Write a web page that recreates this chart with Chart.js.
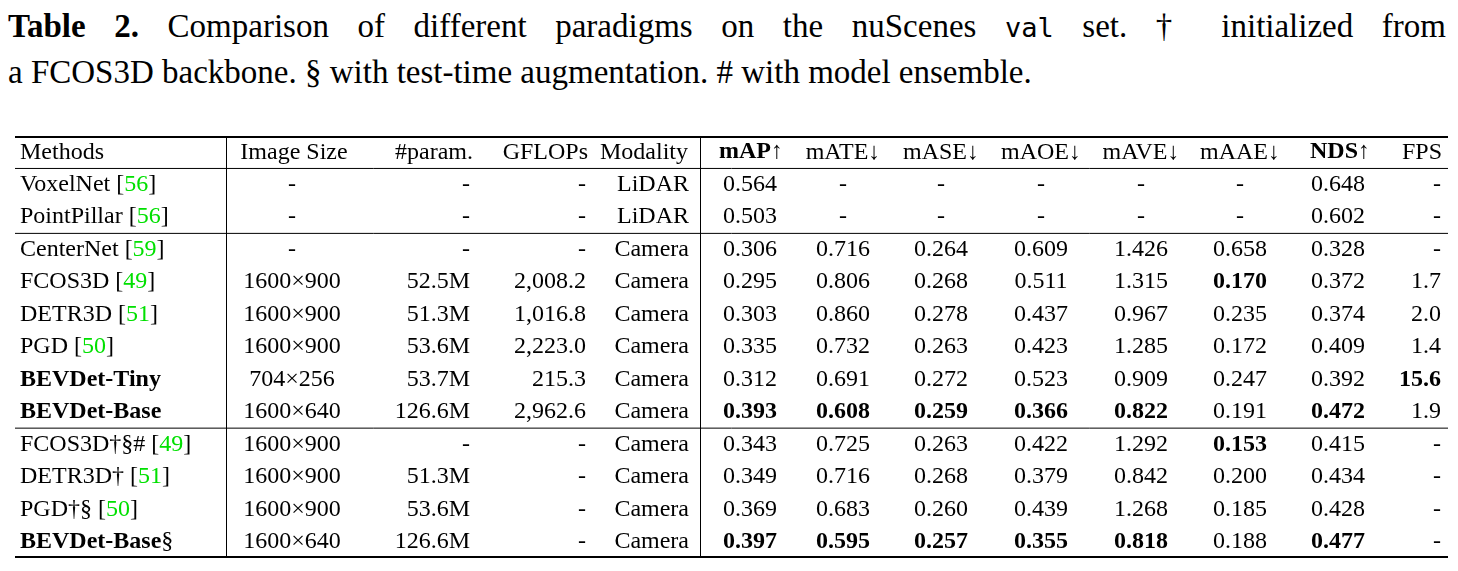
<!DOCTYPE html>
<html>
<head>
<meta charset="utf-8">
<script src="https://cdn.jsdelivr.net/npm/chart.js@4.4.0/dist/chart.umd.min.js"></script>
<style>
  body { margin: 0; background: #fff; width: 1458px; height: 571px; overflow: hidden; }
  #cap { position: absolute; left: 8px; top: 4px; width: 1438px; font-family: "Liberation Serif", serif; font-size: 33px; line-height: 44px; color: #000; white-space: nowrap; }
  #cap .l1 { text-align: justify; text-align-last: justify; }
  #cap b { font-family: "Liberation Serif", serif; }
  #cap code { font-family: "DejaVu Sans Mono", monospace; font-size: 27px; }
  #wrap { position: absolute; left: 15px; top: 136px; }
</style>
</head>
<body>
<div id="cap">
  <div class="l1"><b>Table 2.</b> Comparison of different paradigms on the nuScenes <code>val</code> set. † initialized from</div>
  <div>a FCOS3D backbone. § with test-time augmentation. # with model ensemble.</div>
</div>
<div id="wrap"><canvas id="tableChart" width="1433" height="422"></canvas></div>
<script>
// rows
const methods = ["VoxelNet", "PointPillar", "CenterNet", "FCOS3D", "DETR3D", "PGD", "BEVDet-Tiny", "BEVDet-Base", "FCOS3D†§#", "DETR3D†", "PGD†§", "BEVDet-Base"];
const suffix = ["", "", "", "", "", "", "", "", "", "", "", "§"];
const refs = ["56", "56", "59", "49", "51", "50", "", "", "49", "51", "50", ""];
const boldMethod = [6, 7, 11];
const imageSize = ["-", "-", "-", "1600×900", "1600×900", "1600×900", "704×256", "1600×640", "1600×900", "1600×900", "1600×900", "1600×640"];
const params = ["-", "-", "-", "52.5M", "51.3M", "53.6M", "53.7M", "126.6M", "-", "51.3M", "53.6M", "126.6M"];
const gflops = ["-", "-", "-", "2,008.2", "1,016.8", "2,223.0", "215.3", "2,962.6", "-", "-", "-", "-"];
const modality = ["LiDAR", "LiDAR", "Camera", "Camera", "Camera", "Camera", "Camera", "Camera", "Camera", "Camera", "Camera", "Camera"];
const mAP = ["0.564", "0.503", "0.306", "0.295", "0.303", "0.335", "0.312", "0.393", "0.343", "0.349", "0.369", "0.397"];
const mATE = ["-", "-", "0.716", "0.806", "0.860", "0.732", "0.691", "0.608", "0.725", "0.716", "0.683", "0.595"];
const mASE = ["-", "-", "0.264", "0.268", "0.278", "0.263", "0.272", "0.259", "0.263", "0.268", "0.260", "0.257"];
const mAOE = ["-", "-", "0.609", "0.511", "0.437", "0.423", "0.523", "0.366", "0.422", "0.379", "0.439", "0.355"];
const mAVE = ["-", "-", "1.426", "1.315", "0.967", "1.285", "0.909", "0.822", "1.292", "0.842", "1.268", "0.818"];
const mAAE = ["-", "-", "0.658", "0.170", "0.235", "0.172", "0.247", "0.191", "0.153", "0.200", "0.185", "0.188"];
const NDS = ["0.648", "0.602", "0.328", "0.372", "0.374", "0.409", "0.392", "0.472", "0.415", "0.434", "0.428", "0.477"];
const FPS = ["-", "-", "-", "1.7", "2.0", "1.4", "15.6", "1.9", "-", "-", "-", "-"];
const headers = ["Methods", "Image Size", "#param.", "GFLOPs", "Modality", "mAP↑", "mATE↓", "mASE↓", "mAOE↓", "mAVE↓", "mAAE↓", "NDS↑", "FPS"];
const boldHeaders = ["mAP↑", "NDS↑"];

// column layout: x anchor (page px) and alignment
const columns = [
  { data: null, x: 20, align: "left", hx: 20, halign: "left" },
  { data: imageSize, x: 292, align: "center", hx: 294, halign: "center" },
  { data: params, x: 470, align: "right", hx: 473, halign: "right" },
  { data: gflops, x: 586, align: "right", hx: 588, halign: "right" },
  { data: modality, x: 689, align: "right", hx: 644, halign: "center" },
  { data: mAP, x: 750, align: "center", hx: 751, halign: "center", bold: [7, 11] },
  { data: mATE, x: 843, align: "center", hx: 843, halign: "center", bold: [7, 11] },
  { data: mASE, x: 941, align: "center", hx: 941, halign: "center", bold: [7, 11] },
  { data: mAOE, x: 1041, align: "center", hx: 1041, halign: "center", bold: [7, 11] },
  { data: mAVE, x: 1141, align: "center", hx: 1141, halign: "center", bold: [7, 11] },
  { data: mAAE, x: 1240, align: "center", hx: 1240, halign: "center", bold: [3, 8] },
  { data: NDS, x: 1338, align: "center", hx: 1340, halign: "center", bold: [7, 11] },
  { data: FPS, x: 1441, align: "right", hx: 1442, halign: "right", bold: [6] }
];
const vLines = [226, 700];
const rowLabels = ["header"].concat(methods.map((m, i) => m + suffix[i] + i));

const serif = "\"Liberation Serif\", serif";
const fontSize = 24;

const tablePlugin = {
  id: "tablePlugin",
  afterDraw(chart) {
    const c = chart.ctx, xs = chart.scales.x, ys = chart.scales.y, area = chart.chartArea;
    const font = (b) => (b ? "bold " : "") + fontSize + "px " + serif;
    const rowY = (i) => ys.getPixelForValue(i);
    const between = (i) => (rowY(i) + rowY(i + 1)) / 2;
    c.save();
    c.textBaseline = "middle";
    c.fillStyle = "#000";
    // header
    columns.forEach((col, j) => {
      c.font = font(boldHeaders.includes(headers[j]));
      c.textAlign = col.halign;
      c.fillText(headers[j], xs.getPixelForValue(col.hx), rowY(0));
    });
    // body
    methods.forEach((m, i) => {
      const y = rowY(i + 1);
      let x = xs.getPixelForValue(columns[0].x);
      c.textAlign = "left";
      c.font = font(boldMethod.includes(i));
      c.fillText(m, x, y); x += c.measureText(m).width;
      c.font = font(false);
      if (suffix[i]) { c.fillText(suffix[i], x, y); x += c.measureText(suffix[i]).width; }
      if (refs[i]) {
        const parts = [[" [", "#000"], [refs[i], "#00e000"], ["]", "#000"]];
        parts.forEach(([t, col]) => { c.fillStyle = col; c.fillText(t, x, y); x += c.measureText(t).width; });
        c.fillStyle = "#000";
      }
      columns.slice(1).forEach((col) => {
        const v = col.data[i];
        c.font = font(col.bold && col.bold.includes(i));
        c.textAlign = v === "-" && col.align === "center" ? "center" : col.align;
        c.fillText(v, xs.getPixelForValue(col.x), y);
      });
    });
    // rules
    c.strokeStyle = "#000";
    const hline = (y, w) => { c.lineWidth = w; c.beginPath(); c.moveTo(area.left, y); c.lineTo(area.right, y); c.stroke(); };
    hline(area.top + 1, 2);
    hline(between(0), 1);
    hline(between(2), 1);
    hline(between(8), 1);
    hline(area.bottom - 1, 2);
    c.lineWidth = 1;
    vLines.forEach((vx) => {
      const px = Math.round(xs.getPixelForValue(vx)) + 0.5;
      c.beginPath(); c.moveTo(px, area.top); c.lineTo(px, area.bottom); c.stroke();
    });
    c.restore();
  }
};

new Chart(document.getElementById("tableChart"), {
  type: "scatter",
  data: { labels: rowLabels, datasets: [{ data: [], pointRadius: 0 }] },
  options: {
    responsive: false,
    animation: false,
    layout: { padding: 0 },
    plugins: { legend: { display: false }, tooltip: { enabled: false } },
    scales: {
      x: { type: "linear", min: 15, max: 1448, display: false },
      y: { type: "category", labels: rowLabels, offset: true, display: false }
    }
  },
  plugins: [tablePlugin]
});
</script>
</body>
</html>
